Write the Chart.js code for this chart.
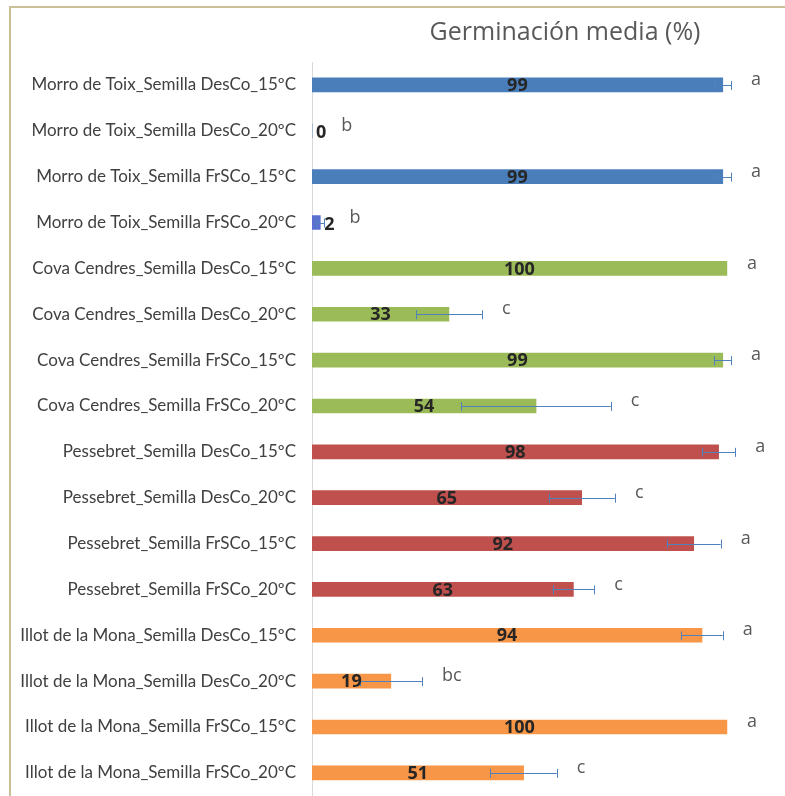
<!DOCTYPE html>
<html>
<head>
<meta charset="utf-8">
<script src="https://cdn.jsdelivr.net/npm/chart.js@4.4.1/dist/chart.umd.min.js"></script>
<style>
  html, body { margin: 0; padding: 0; background: #ffffff; overflow: hidden; height: 796px; }
  canvas { display: block; }
</style>
</head>
<body>
<canvas id="chart" width="785" height="822"></canvas>
<script>
const categories = [
  "Morro de Toix_Semilla DesCo_15ºC",
  "Morro de Toix_Semilla DesCo_20ºC",
  "Morro de Toix_Semilla FrSCo_15ºC",
  "Morro de Toix_Semilla FrSCo_20ºC",
  "Cova Cendres_Semilla DesCo_15ºC",
  "Cova Cendres_Semilla DesCo_20ºC",
  "Cova Cendres_Semilla FrSCo_15ºC",
  "Cova Cendres_Semilla FrSCo_20ºC",
  "Pessebret_Semilla DesCo_15ºC",
  "Pessebret_Semilla DesCo_20ºC",
  "Pessebret_Semilla FrSCo_15ºC",
  "Pessebret_Semilla FrSCo_20ºC",
  "Illot de la Mona_Semilla DesCo_15ºC",
  "Illot de la Mona_Semilla DesCo_20ºC",
  "Illot de la Mona_Semilla FrSCo_15ºC",
  "Illot de la Mona_Semilla FrSCo_20ºC"
];
const germination = [99, 0, 99, 2, 100, 33, 99, 54, 98, 65, 92, 63, 94, 19, 100, 51];
const errors = [2, 0, 2, 1, 0, 8, 2, 18, 4, 8, 6.5, 5, 5, 7.5, 0, 8];
const letters = ["a", "b", "a", "b", "a", "c", "a", "c", "a", "c", "a", "c", "a", "bc", "a", "c"];
const groupColors = ["#4a7ebb", "#9bbb59", "#c0504d", "#f79646"];
const title = "Germinación media (%)";

const barColors = categories.map((c, i) => i === 3 ? "#5a6fd0" : groupColors[Math.floor(i / 4)]);

const frameAndTitle = {
  id: "frameAndTitle",
  beforeDraw(chart) {
    const ctx = chart.ctx;
    ctx.save();
    ctx.strokeStyle = "#cbbf98";
    ctx.lineWidth = 2;
    ctx.beginPath();
    ctx.moveTo(10, 822);
    ctx.lineTo(10, 7);
    ctx.lineTo(785, 7);
    ctx.stroke();
    ctx.fillStyle = "#595959";
    ctx.font = "25px 'Open Sans'";
    ctx.textAlign = "center";
    ctx.textBaseline = "middle";
    ctx.fillText(title, 565, 33);
    ctx.restore();
  }
};

const barExtras = {
  id: "barExtras",
  afterDatasetsDraw(chart) {
    const ctx = chart.ctx;
    const xs = chart.scales.x;
    const meta = chart.getDatasetMeta(0);
    ctx.save();
    meta.data.forEach((bar, i) => {
      const y = bar.y;
      const v = germination[i];
      const e = errors[i];
      const x0 = xs.getPixelForValue(0);
      const xEnd = xs.getPixelForValue(v);
      const capX = xs.getPixelForValue(v + e);

      // error bars
      if (e > 0) {
        const lo = xs.getPixelForValue(v - e);
        ctx.strokeStyle = "#4f81bd";
        ctx.lineWidth = 1;
        ctx.beginPath();
        ctx.moveTo(lo, Math.round(y) + 0.5);
        ctx.lineTo(capX, Math.round(y) + 0.5);
        ctx.moveTo(Math.round(lo) + 0.5, y - 4);
        ctx.lineTo(Math.round(lo) + 0.5, y + 5);
        ctx.moveTo(Math.round(capX) + 0.5, y - 4);
        ctx.lineTo(Math.round(capX) + 0.5, y + 5);
        ctx.stroke();
      }

      // value labels
      ctx.font = "bold 18px 'Open Sans'";
      ctx.fillStyle = "#262626";
      ctx.textBaseline = "middle";
      const txt = String(v);
      const w = ctx.measureText(txt).width;
      let labelEnd;
      if (xEnd - x0 > w + 6) {
        ctx.textAlign = "center";
        ctx.fillText(txt, (x0 + xEnd) / 2, y + 1);
        labelEnd = 0;
      } else {
        ctx.textAlign = "left";
        ctx.fillText(txt, xEnd + 4, y + 2);
        labelEnd = xEnd + 4 + w;
      }

      // significance letters
      ctx.font = "18px 'Open Sans'";
      ctx.fillStyle = "#595959";
      ctx.textAlign = "left";
      const lx = labelEnd > 0 ? labelEnd + 15 : capX + 20;
      ctx.fillText(letters[i], lx, y - 5);
    });
    ctx.restore();
  }
};

new Chart(document.getElementById("chart"), {
  type: "bar",
  data: {
    labels: categories,
    datasets: [{
      data: germination,
      backgroundColor: barColors,
      barThickness: 14,
      borderWidth: 0
    }]
  },
  options: {
    indexAxis: "y",
    responsive: false,
    animation: false,
    layout: { padding: { top: 62, left: 0, right: 0, bottom: 0 } },
    plugins: {
      legend: { display: false },
      tooltip: { enabled: false }
    },
    scales: {
      x: {
        display: false,
        min: 0,
        max: 114
      },
      y: {
        afterFit: (scale) => { scale.width = 312; },
        grid: { display: false, drawTicks: false },
        border: { display: true, color: "#d9d9d9", width: 1 },
        ticks: {
          padding: 16,
          color: "#404040",
          font: { family: "Lato", size: 17 }
        }
      }
    }
  },
  plugins: [frameAndTitle, barExtras]
});
</script>
</body>
</html>
